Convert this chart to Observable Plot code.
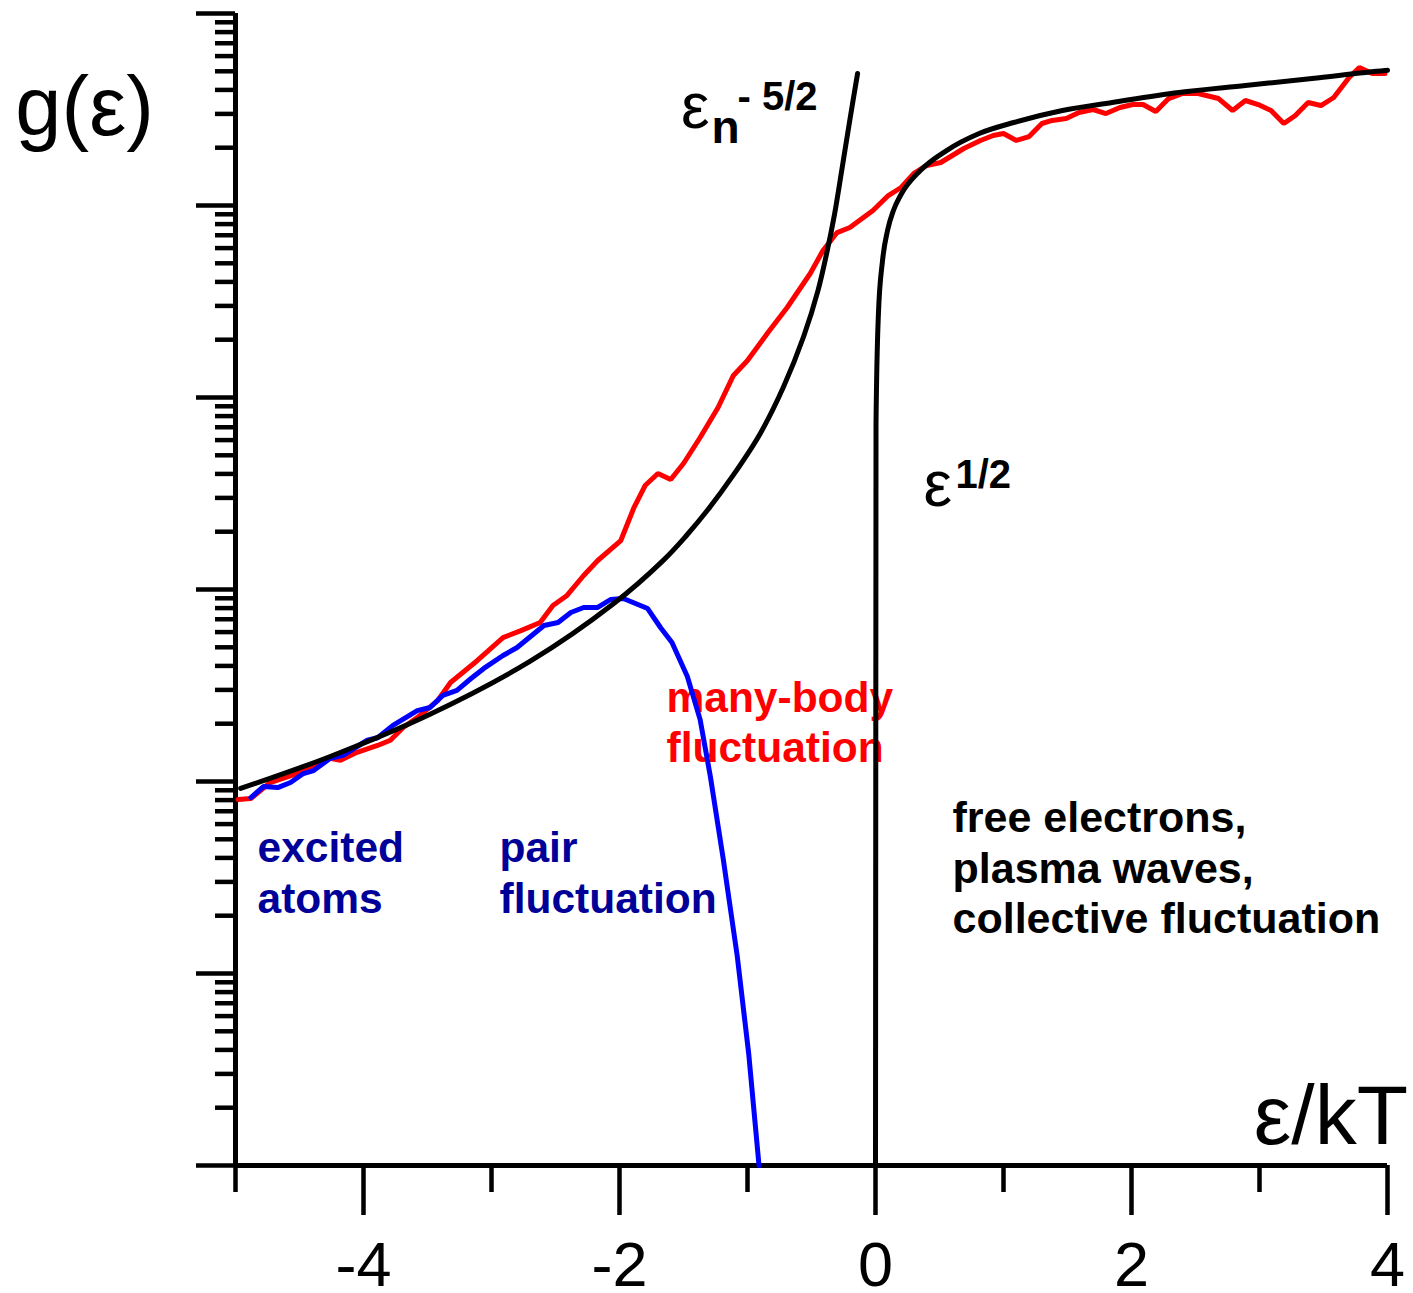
<!DOCTYPE html>
<html>
<head>
<meta charset="utf-8">
<script src="https://cdn.jsdelivr.net/npm/d3@7"></script>
<script src="https://cdn.jsdelivr.net/npm/@observablehq/plot@0.6"></script>
<style>
  html, body { margin: 0; padding: 0; background: #fff; }
  #chart svg { display: block; }
</style>
</head>
<body>
<div id="chart"></div>
<script>
// Energy axis ε/kT (linear) and density of states g(ε) (log, arbitrary units)
const xMajorTicks = [-4, -2, 0, 2, 4];
const xMinorTicks = [-5, -3, -1, 1, 3];
const yMajorTicks = [1, 1e1, 1e2, 1e3, 1e4, 1e5, 1e6];
const yMinorTicks = [1, 10, 100, 1000, 10000, 100000]
  .flatMap(base => [2, 3, 4, 5, 6, 7, 8, 9].map(m => m * base));

// Bound-state branch  ε_n^{-5/2}
const boundX = [-4.96, -4.26, -3.48, -2.70, -2.05, -1.66, -1.48, -1.31, -1.11, -0.90,
                -0.72, -0.56, -0.45, -0.375, -0.32, -0.26, -0.20, -0.14];
const boundG = [92, 135, 224, 422, 840, 1414, 1900, 2600, 3950, 6500,
                11300, 20900, 35900, 59000, 90000, 158000, 280000, 487000];

// Free-particle branch  ε^{1/2}
const freeX = [0, 0.004, 0.023, 0.055, 0.094, 0.14, 0.195, 0.35, 0.555, 0.81,
               1.08, 1.46, 1.85, 2.37, 2.89, 3.41, 3.98, 4.0];
const freeG = [1, 7320, 27400, 51700, 74100, 94200, 112700, 152100, 193300, 237100,
               270500, 312500, 343900, 387800, 421700, 458600, 504600, 506000];

// Pair-fluctuation density of states
const pairX = [-4.88, -4.78, -4.67, -4.57, -4.47, -4.39, -4.26, -4.16, -3.97, -3.89,
               -3.77, -3.58, -3.48, -3.38, -3.27, -3.16, -3.06, -2.91, -2.80, -2.59,
               -2.48, -2.38, -2.28, -2.17, -2.07, -1.97, -1.78, -1.68, -1.59, -1.47,
               -1.37, -1.29, -1.19, -1.08, -0.99, -0.91];
const pairG = [82.5, 94.2, 93.0, 98.8, 110, 114, 132, 137, 164, 169,
               196, 234, 243, 281, 298, 344, 388, 453, 499, 649,
               673, 759, 806, 806, 887, 898, 796, 634, 530, 352,
               210, 106, 39.7, 12.3, 3.79, 1];

// Many-body fluctuation density of states
const manyBodyX = [-4.98, -4.88, -4.73, -4.52, -4.39, -4.26, -4.18, -4.05, -3.89, -3.79,
                   -3.69, -3.58, -3.42, -3.32, -3.11, -2.91, -2.77, -2.62, -2.52, -2.41,
                   -2.28, -2.17, -1.99, -1.89, -1.80, -1.70, -1.60, -1.50, -1.37, -1.23,
                   -1.11, -1.00, -0.84, -0.69, -0.51, -0.41, -0.30, -0.20, -0.02, 0.10,
                   0.20, 0.30, 0.40, 0.51, 0.69, 0.82, 0.92, 1.00, 1.10, 1.20,
                   1.30, 1.38, 1.49, 1.59, 1.70, 1.80, 1.91, 2.01, 2.09, 2.19,
                   2.29, 2.40, 2.52, 2.68, 2.79, 2.89, 2.99, 3.09, 3.19, 3.28,
                   3.38, 3.48, 3.58, 3.70, 3.78, 3.88, 3.98];
const manyBodyG = [80.6, 81.5, 98.8, 110, 121, 132, 129, 142, 154, 164,
                   191, 215, 264, 328, 427, 562, 611, 673, 826, 931,
                   1183, 1416, 1799, 2642, 3480, 4018, 3741, 4533, 6190, 8870,
                   13030, 15590, 21810, 29420, 44230, 58310, 72290, 76790, 94190, 112700,
                   124100, 146900, 161600, 167500, 198100, 218100, 231600, 237100, 218100, 228700,
                   267400, 277300, 283800, 304900, 316200, 301300, 323800, 335700, 335700, 309000,
                   360600, 383100, 383100, 360600, 312500, 352300, 335700, 312500, 267400, 294400,
                   343900, 331700, 365200, 464200, 523400, 487000, 487000];

const rows = (xs, gs) => xs.map((x, i) => ({x, g: gs[i]}));

const SANS = "'Liberation Sans', Arial, Helvetica, sans-serif";
const AXIS_W = 4.5;
const CURVE_W = 5;

const chart = Plot.plot({
  width: 1413,
  height: 1293,
  marginLeft: 235,
  marginRight: 26,
  marginTop: 13,
  marginBottom: 128,
  style: {fontFamily: SANS, background: "#fff", color: "#000"},
  x: {domain: [-5, 4]},
  y: {type: "log", domain: [1, 1e6]},
  marks: [
    // axes: log minor/major ticks on the left, integer ticks below
    Plot.axisY({ticks: yMinorTicks, tickSize: 20, tickFormat: () => "", strokeWidth: AXIS_W, label: null}),
    Plot.axisY({ticks: yMajorTicks, tickSize: 39, tickFormat: () => "", strokeWidth: AXIS_W, label: null}),
    Plot.axisX({ticks: xMinorTicks, tickSize: 27, tickFormat: () => "", strokeWidth: AXIS_W, label: null}),
    Plot.axisX({ticks: xMajorTicks, tickSize: 50, tickPadding: 26, fontSize: 63,
                tickFormat: d => String(d), strokeWidth: AXIS_W, label: null}),
    Plot.ruleX([-5], {strokeWidth: 5}),
    Plot.ruleY([1], {strokeWidth: 5}),

    // axis titles
    Plot.text(["g(ε)"], {x: -6.72, y: 2.317e5, textAnchor: "start", lineAnchor: "bottom", fontSize: 83}),
    Plot.text(["ε/kT"], {x: 4.16, y: 1.30, textAnchor: "end", lineAnchor: "bottom", fontSize: 84}),

    // curve labels
    Plot.text(["ε"], {x: -1.52, y: 2.548e5, textAnchor: "start", lineAnchor: "bottom", fontSize: 64}),
    Plot.text(["n"], {x: -1.281, y: 2.104e5, textAnchor: "start", lineAnchor: "bottom", fontSize: 46, fontWeight: "bold"}),
    Plot.text(["- 5/2"], {x: -1.078, y: 3.125e5, textAnchor: "start", lineAnchor: "bottom", fontSize: 40, fontWeight: "bold"}),
    Plot.text(["ε"], {x: 0.375, y: 2738, textAnchor: "start", lineAnchor: "bottom", fontSize: 64}),
    Plot.text(["1/2"], {x: 0.625, y: 3397, textAnchor: "start", lineAnchor: "bottom", fontSize: 40, fontWeight: "bold"}),

    // region labels
    Plot.text(["many-body\nfluctuation"], {x: -1.633, y: 125.6, textAnchor: "start", lineAnchor: "bottom",
      fontSize: 42.5, fontWeight: "bold", lineHeight: 50 / 42.5, fill: "#ff0000"}),
    Plot.text(["excited\natoms"], {x: -4.828, y: 20.54, textAnchor: "start", lineAnchor: "bottom",
      fontSize: 42.5, fontWeight: "bold", lineHeight: 51 / 42.5, fill: "#000099"}),
    Plot.text(["pair\nfluctuation"], {x: -2.9375, y: 20.54, textAnchor: "start", lineAnchor: "bottom",
      fontSize: 42.5, fontWeight: "bold", lineHeight: 51 / 42.5, fill: "#000099"}),
    Plot.text(["free electrons,\nplasma waves,\ncollective fluctuation"], {x: 0.6016, y: 16.16,
      textAnchor: "start", lineAnchor: "bottom", fontSize: 43, fontWeight: "bold", lineHeight: 50.5 / 43, fill: "#000"}),

    // density-of-states curves
    Plot.line(rows(manyBodyX, manyBodyG), {x: "x", y: "g", stroke: "#ff0000", strokeWidth: CURVE_W,
      curve: "linear", strokeLinejoin: "miter"}),
    Plot.line(rows(pairX, pairG), {x: "x", y: "g", stroke: "#0000ff", strokeWidth: CURVE_W,
      curve: "linear", strokeLinejoin: "miter"}),
    Plot.line(rows(boundX, boundG), {x: "x", y: "g", stroke: "#000", strokeWidth: CURVE_W, curve: "catmull-rom"}),
    Plot.line(rows(freeX, freeG), {x: "x", y: "g", stroke: "#000", strokeWidth: CURVE_W, curve: "monotone-x"})
  ]
});

document.getElementById("chart").appendChild(chart);
</script>
</body>
</html>
